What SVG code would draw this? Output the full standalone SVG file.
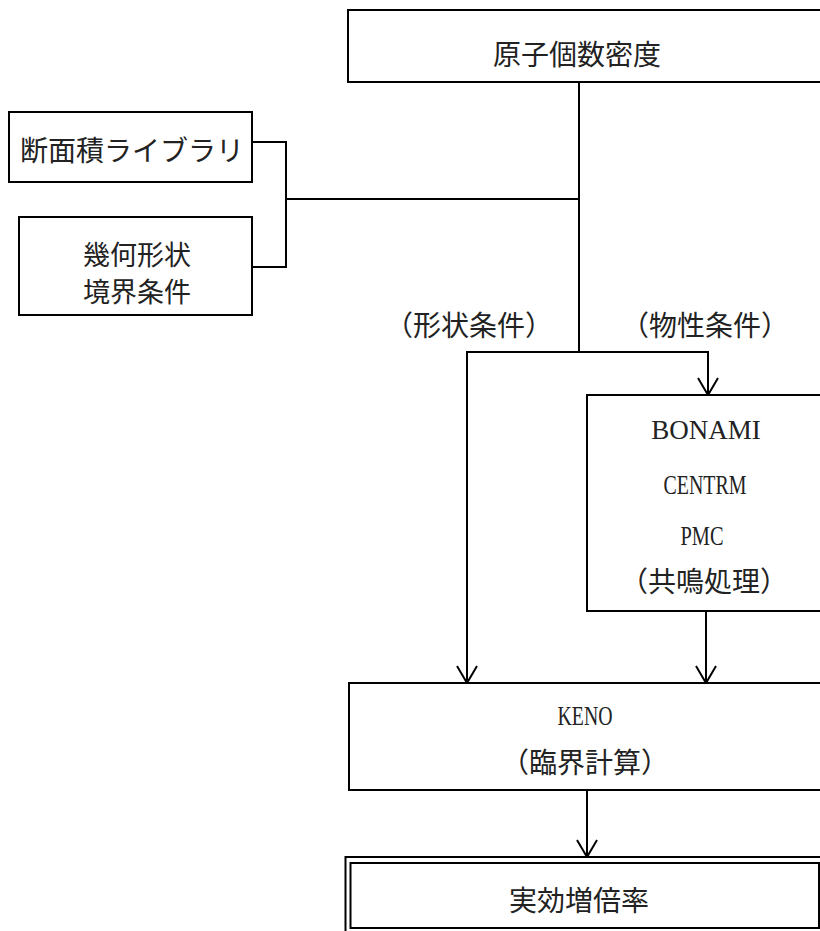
<svg xmlns="http://www.w3.org/2000/svg" width="820" height="931" viewBox="0 0 820 931">
<style>
.box{fill:#fff;stroke:#000;stroke-width:2}
.ln{fill:none;stroke:#000;stroke-width:2}
.jp{font-family:"Noto Sans CJK JP","Noto Sans CJK SC",sans-serif;font-size:28px;fill:#222;text-anchor:middle}
.jp2{font-size:27px}
.lat{font-family:"Liberation Serif","Noto Sans CJK JP",serif;font-size:27px;fill:#222;text-anchor:middle}
</style>
<defs>
<marker id="arr" markerUnits="userSpaceOnUse" markerWidth="24" markerHeight="24" viewBox="-20 -12 24 24" refX="0" refY="0" orient="auto" overflow="visible">
<path d="M-17,-10 L0,0 L-17,10" fill="none" stroke="#000" stroke-width="2"/>
</marker>
</defs>
<rect width="820" height="931" fill="#fff"/>
<g id="connectors">
<polyline class="ln" points="252,142 286,142 286,267 252,267"/>
<line class="ln" x1="286" y1="199" x2="579" y2="199"/>
<line class="ln" x1="579" y1="82" x2="579" y2="352"/>
<polyline class="ln" points="467,683 467,352 708,352 708,395" marker-end="url(#arr)"/>
<line class="ln" x1="467" y1="500" x2="467" y2="683" marker-end="url(#arr)"/>
<line class="ln" x1="706" y1="611" x2="706" y2="683" marker-end="url(#arr)"/>
<line class="ln" x1="587" y1="790" x2="587" y2="857" marker-end="url(#arr)"/>
</g>
<g id="atom-density">
<rect class="box" x="348" y="10" width="500" height="72"/>
<text class="jp" x="577" y="65">原子個数密度</text>
</g>
<g id="xs-library">
<rect class="box" x="9" y="112" width="243" height="70"/>
<text class="jp" x="132" y="161">断面積ライブラリ</text>
</g>
<g id="geometry">
<rect class="box" x="19" y="217" width="233" height="98"/>
<text class="jp jp2" x="137" y="265">幾何形状</text>
<text class="jp jp2" x="137" y="302">境界条件</text>
</g>
<g id="labels">
<text class="jp" x="469" y="336">（形状条件）</text>
<text class="jp" x="705" y="336">（物性条件）</text>
</g>
<g id="resonance">
<rect class="box" x="587" y="395" width="260" height="216"/>
<text class="lat" x="706" y="439">BONAMI</text>
<text class="lat" x="705" y="494" textLength="83" lengthAdjust="spacingAndGlyphs">CENTRM</text>
<text class="lat" x="702" y="545" textLength="43" lengthAdjust="spacingAndGlyphs">PMC</text>
<text class="jp" x="704" y="592">（共鳴処理）</text>
</g>
<g id="keno">
<rect class="box" x="349" y="683" width="500" height="107"/>
<text class="lat" x="585" y="725" textLength="55" lengthAdjust="spacingAndGlyphs">KENO</text>
<text class="jp" x="585" y="773">（臨界計算）</text>
</g>
<g id="keff">
<rect class="box" x="345.5" y="857" width="480" height="80"/>
<rect class="box" x="350.5" y="863" width="468.5" height="65"/>
<text class="jp" x="579" y="911">実効増倍率</text>
</g>
</svg>
